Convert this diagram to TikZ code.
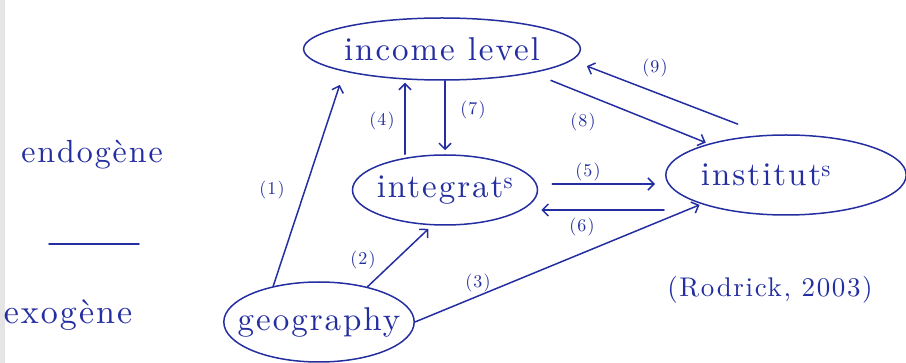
\documentclass[tikz,border=0pt]{standalone}
\usepackage{fontspec}
\newfontfamily\hand[LetterSpace=6]{lmroman10-regular.otf}
\usetikzlibrary{shapes.geometric,arrows.meta}
\definecolor{ink}{RGB}{36,46,160}
\begin{document}
\begin{tikzpicture}[x=1pt,y=-1pt,
  blob/.style={ellipse,draw=ink,line width=1.5pt,inner sep=0pt,text=ink,
    font=\hand\fontsize{33}{36}\selectfont},
  word/.style={text=ink,inner sep=0pt,font=\hand\fontsize{32}{36}\selectfont},
  link/.style={draw=ink,line width=1.5pt,line cap=round,
    -{Straight Barb[length=6pt,width=12pt,line width=1.5pt]}},
  plain/.style={draw=ink,line width=1.5pt,line cap=round},
  num/.style={text=ink,inner sep=0pt,font=\hand\fontsize{18}{20}\selectfont}]
\useasboundingbox (0,0) rectangle (906,363);
\fill[black!10] (0,0) rectangle (5,363);
% main nodes
\node[blob,minimum width=230pt,minimum height=62pt] (inc) at (442,49) {income level};
\node[blob,inner xsep=-4pt,minimum width=185pt,minimum height=70pt] (intg) at (445,190) {integrat\textsuperscript{s}};
\node[blob,minimum width=237pt,minimum height=80pt] (inst) at (786,175) {institut\textsuperscript{s}\hspace*{40pt}};
\node[blob,inner xsep=-14pt,minimum width=188pt,minimum height=80pt] (geo) at (319,322) {geography};
% legend and source
\node[word] (endo) at (92,155) {endogène};
\coordinate (la) at (49,244);
\coordinate (lb) at (139,244);
\draw[plain] (la) -- (lb);
\node[word,font=\hand\fontsize{34}{38}\selectfont] (exo) at (68,315) {exogène};
\node[word,font=\hand\fontsize{27}{30}\selectfont] (rod) at (770,290) {(Rodrick, 2003)};
% connectors
\draw[link,shorten >=14pt] (geo.142) -- (inc.193);
\draw[link,shorten >=5pt] (geo.36) -- (intg.250);
\draw[link,shorten >=2pt] (geo.east) -- (inst.199);
\draw[link,shorten >=2pt] ([xshift=-40pt]intg.north) -- ([xshift=-37pt]inc.south);
\draw[link,shorten >=4pt] ([xshift=3pt]inc.south) -- (intg.north);
\draw[link,shorten >=3pt] ([shift={(15pt,-8pt)}]inc.-14) -- (inst.158);
\draw[link,shorten >=16pt] ([shift={(-12pt,12pt)}]inst.133) -- (inc.-5);
\draw[link] ([shift={(14pt,6pt)}]intg.east) -- ([shift={(-10pt,-9pt)}]inst.west);
\draw[link] ([shift={(-1pt,-35pt)}]inst.west) -- ([shift={(3pt,-20pt)}]intg.east);
% labels
\node[num] (n1) at (272,190) {(1)};
\node[num] (n2) at (363,260) {(2)};
\node[num] (n3) at (478,283) {(3)};
\node[num] (n4) at (382,121) {(4)};
\node[num] (n7) at (473,110) {(7)};
\node[num] (n8) at (583,122) {(8)};
\node[num] (n9) at (655,68) {(9)};
\node[num] (n5) at (588,172) {(5)};
\node[num] (n6) at (582,227) {(6)};
\end{tikzpicture}
\end{document}
